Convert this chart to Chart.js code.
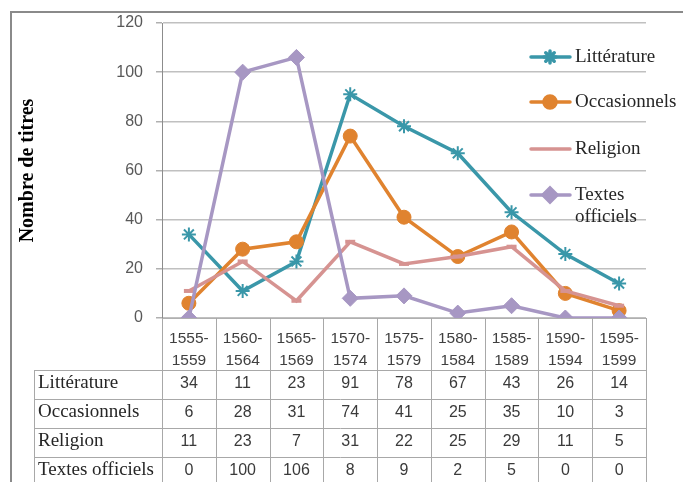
<!DOCTYPE html>
<html><head><meta charset="utf-8">
<script src="https://cdn.jsdelivr.net/npm/chart.js@4"></script>
<style>html,body{margin:0;padding:0;background:#fff;}#wrap{position:relative;width:683px;height:482px;}</style>
</head><body><div id="wrap"><canvas id="c"></canvas></div>
<script>
const categories = [["1555-","1559"],["1560-","1564"],["1565-","1569"],["1570-","1574"],["1575-","1579"],["1580-","1584"],["1585-","1589"],["1590-","1594"],["1595-","1599"]];
const seriesNames = ["Littérature","Occasionnels","Religion","Textes officiels"];
const litterature = [34,11,23,91,78,67,43,26,14];
const occasionnels = [6,28,31,74,41,25,35,10,3];
const religion = [11,23,7,31,22,25,29,11,5];
const textesOfficiels = [0,100,106,8,9,2,5,0,0];
const yTicks = [0,20,40,60,80,100,120];
const yTitle = "Nombre de titres";

const colors = ['#3a97a9','#e0832f','#d69391','#a797c3'];
const styles = [
  {pointStyle:'star', radius:7, borderWidth:2},
  {pointStyle:'circle', radius:7, borderWidth:1},
  {pointStyle:'line', radius:5, borderWidth:4},
  {pointStyle:'rectRot', radius:8, borderWidth:1}
];
const allSeries = [litterature, occasionnels, religion, textesOfficiels];

const datasets = allSeries.map((d,i)=>({
  label: seriesNames[i], data: d,
  borderColor: colors[i], backgroundColor: colors[i],
  borderWidth: 3.5, tension: 0,
  pointStyle: styles[i].pointStyle, pointRadius: styles[i].radius,
  pointBorderWidth: styles[i].borderWidth,
  pointBackgroundColor: colors[i], pointBorderColor: colors[i],
  order: 3 - i
}));

const tablePlugin = {
  id: 'tablePlugin',
  beforeDraw(chart){
    const ctx = chart.ctx;
    ctx.save();
    ctx.fillStyle = '#fff'; ctx.fillRect(0,0,chart.width,chart.height);
    ctx.strokeStyle = '#8a8a8a'; ctx.lineWidth = 2;
    ctx.beginPath(); ctx.moveTo(11,500); ctx.lineTo(11,12); ctx.lineTo(700,12); ctx.stroke();
    ctx.restore();
  },
  afterDraw(chart){
    const ctx = chart.ctx, xs = chart.scales.x, ca = chart.chartArea;
    const n = categories.length;
    const w = (ca.right - ca.left) / n;
    const bounds = [];
    for (let i=0;i<n;i++) bounds.push(xs.getPixelForValue(i) - w/2);
    bounds.push(xs.getPixelForValue(n-1) + w/2);
    const top = xs.bottom, rowH = 29, labelLeft = 34;
    const nRows = seriesNames.length;
    ctx.save();
    ctx.strokeStyle = '#a8a8a8'; ctx.lineWidth = 1;
    ctx.beginPath();
    bounds.forEach(b=>{ const x=Math.round(b)+0.5; ctx.moveTo(x, ca.bottom); ctx.lineTo(x, top + nRows*rowH); });
    ctx.moveTo(labelLeft+0.5, top); ctx.lineTo(labelLeft+0.5, top + nRows*rowH);
    for (let k=0;k<=nRows;k++){ const y=Math.round(top+k*rowH)+0.5; ctx.moveTo(labelLeft, y); ctx.lineTo(Math.round(bounds[n])+1, y); }
    ctx.stroke();
    ctx.textBaseline = 'middle';
    for (let k=0;k<nRows;k++){
      const yc = top + k*rowH + rowH/2 - 1;
      ctx.font = '19px "Liberation Serif"'; ctx.fillStyle = '#262626'; ctx.textAlign = 'left';
      ctx.fillText(seriesNames[k], labelLeft+4, yc);
      ctx.font = '16px "Liberation Sans"'; ctx.fillStyle = '#3a3a3a'; ctx.textAlign = 'center';
      allSeries[k].forEach((v,i)=>ctx.fillText(String(v), xs.getPixelForValue(i), yc));
    }
    ctx.restore();
  },
  afterDatasetsDraw(chart){
    const ctx = chart.ctx;
    const legendY = [57,102,149,195];
    ctx.save();
    for (let i=0;i<seriesNames.length;i++){
      const y = legendY[i];
      ctx.strokeStyle = colors[i]; ctx.lineWidth = 3.5; ctx.lineCap='round';
      ctx.beginPath(); ctx.moveTo(531,y); ctx.lineTo(570,y); ctx.stroke();
      if (i !== 2){
        ctx.fillStyle = colors[i]; ctx.strokeStyle = colors[i];
        const r = i===0?6:(i===1?6:7);
        Chart.helpers.drawPoint(ctx, {pointStyle: styles[i].pointStyle, radius: r, borderWidth: styles[i].borderWidth, rotation:0}, 550, y);
      }
      ctx.fillStyle = '#262626'; ctx.font = '19px "Liberation Serif"';
      ctx.textAlign='left'; ctx.textBaseline='middle';
      const name = seriesNames[i];
      if (i === 3){
        const parts = name.split(' ');
        ctx.fillText(parts[0], 575, y);
        ctx.fillText(parts[1], 575, y+22);
      } else ctx.fillText(name, 575, y);
    }
    ctx.restore();
  }
};

new Chart(document.getElementById('c'), {
  type: 'line',
  data: { labels: categories, datasets },
  options: {
    responsive: true, maintainAspectRatio: false, animation: false, events: [],
    layout: { padding: { left: 0, right: 37, top: 23, bottom: 112 } },
    plugins: { legend: { display: false }, tooltip: { enabled: false } },
    scales: {
      x: {
        offset: true,
        grid: { display: false },
        border: { display: true, color: '#b0b0b0', width: 1 },
        ticks: { autoSkip: false, maxRotation: 0, padding: 2, color: '#404040',
                 font: { family: 'Liberation Sans', size: 15.5, lineHeight: 22/15.5 } },
        afterFit(s){ s.height = 52; }
      },
      y: {
        min: 0, max: 120,
        afterBuildTicks(s){ s.ticks = yTicks.map(v=>({value:v})); },
        grid: { color: '#c0c0c0', lineWidth: 1.5, tickLength: 6, tickColor: '#b0b0b0' },
        border: { display: true, color: '#8c8c8c', width: 1 },
        ticks: { padding: 13, color: '#595959', font: { family: 'Liberation Sans', size: 16 } },
        title: { display: true, text: yTitle, color: '#000',
                 font: { family: 'Liberation Serif', size: 20, weight: 'bold' }, padding: { top: 16, bottom: 0 } },
        afterFit(s){ s.width = 162; }
      }
    }
  },
  plugins: [tablePlugin]
});
</script></body></html>
